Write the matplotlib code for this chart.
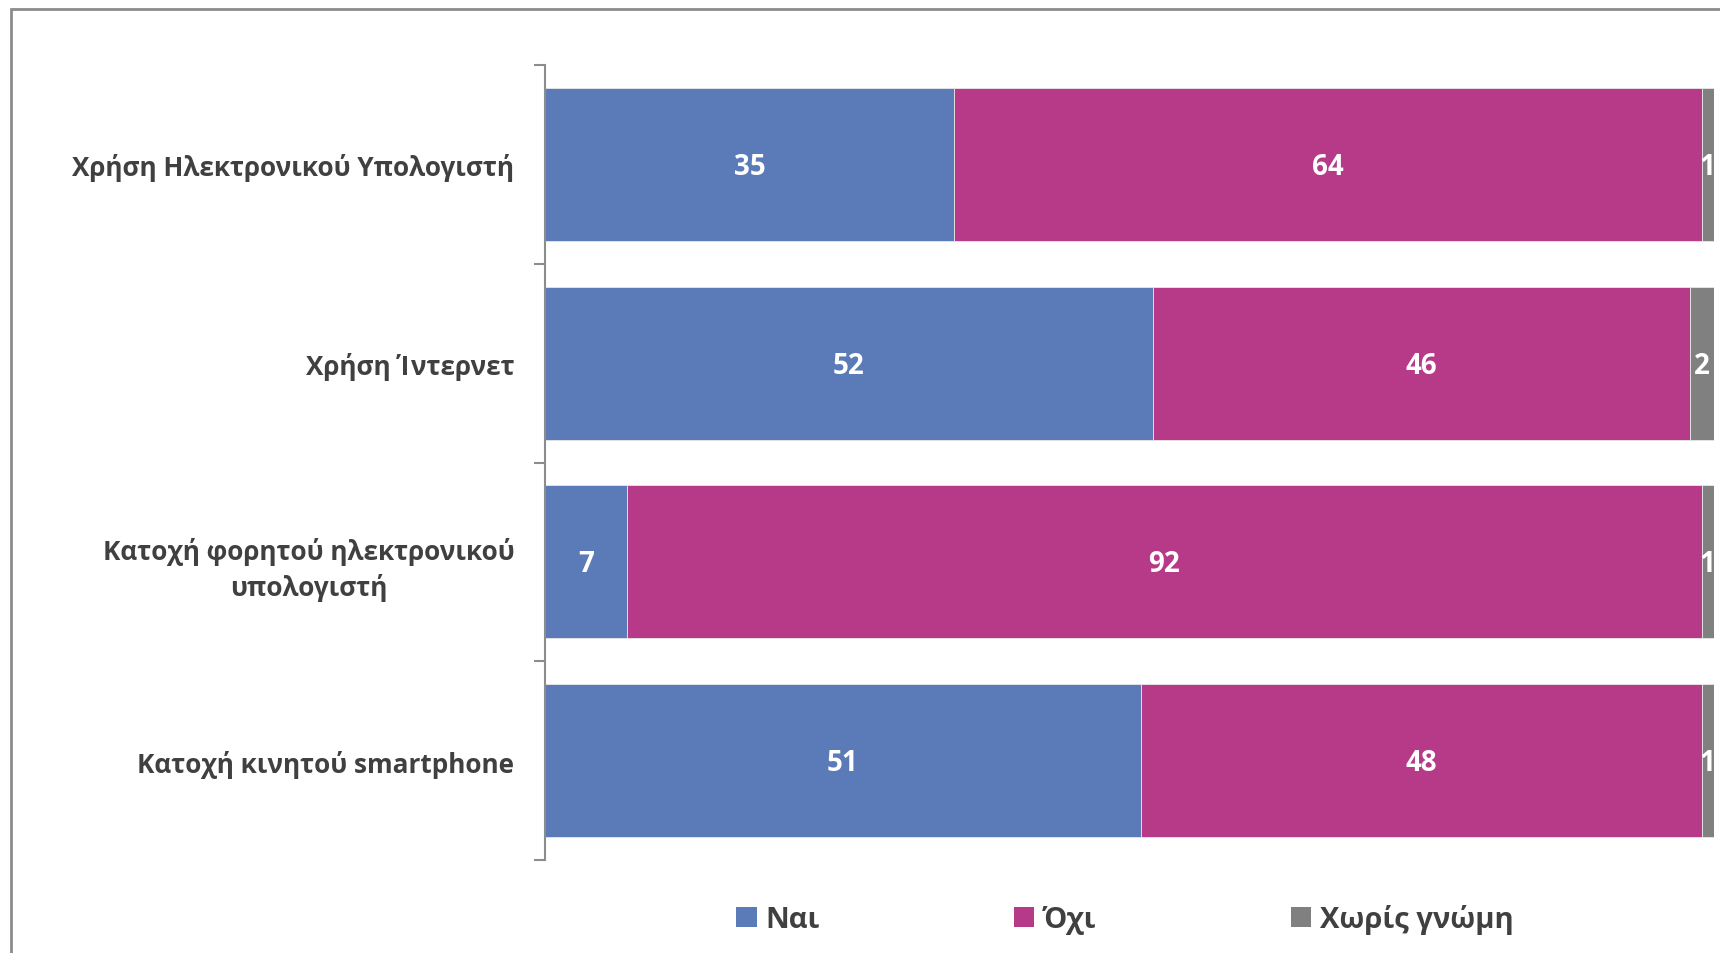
import matplotlib
matplotlib.use("Agg")
import matplotlib.pyplot as plt
from matplotlib.patches import Rectangle, Patch
import numpy as np

categories = ["Χρήση Ηλεκτρονικού Υπολογιστή", "Χρήση Ίντερνετ",
              "Κατοχή φορητού ηλεκτρονικού\nυπολογιστή", "Κατοχή κινητού smartphone"]
series_names = ["Ναι", "Όχι", "Χωρίς γνώμη"]
yes = [35, 52, 7, 51]
no = [64, 46, 92, 48]
no_opinion = [1, 2, 1, 1]
colors = ["#5B7BB8", "#B73A88", "#808080"]

plt.rcParams['font.family'] = ['Open Sans', 'DejaVu Sans']

W, H = 1720, 954
fig = plt.figure(figsize=(W / 100, H / 100), dpi=100)
fig.patches.append(Rectangle((11 / W, -0.1), 1.2, 1 - 10 / H + 0.1, transform=fig.transFigure,
                             fill=False, edgecolor="#8C8C8C", linewidth=2))

ax = fig.add_axes([545 / W, 1 - 861 / H, (1713.5 - 545) / W, (861 - 66) / H])
y = np.arange(len(categories))
left = np.zeros(len(categories))
for name, vals, c in zip(series_names, [yes, no, no_opinion], colors):
    bars = ax.barh(y, vals, left=left, height=0.77, color=c, label=name,
                   edgecolor="#E8E8E8", linewidth=0.6)
    for b, v in zip(bars, vals):
        ax.text(b.get_x() + b.get_width() / 2, b.get_y() + b.get_height() / 2 + 0.01, str(v),
                ha="center", va="center", color="white", fontsize=20, fontweight="bold",
                clip_on=False)
    left += np.array(vals)

ax.set_xlim(0, 100)
ax.set_ylim(len(categories) - 0.5, -0.5)
ax.set_yticks(y)
ax.set_yticklabels(categories, fontsize=18.8, fontweight="bold", color="#404040",
                   multialignment="center", linespacing=1.35)
ax.tick_params(axis="y", which="major", length=0, pad=22)
ax.set_yticks(np.arange(-0.5, len(categories)), minor=True)
ax.tick_params(axis="y", which="minor", length=8, width=1.5, color="#8C8C8C")
ax.set_xticks([])
for s in ["top", "right", "bottom"]:
    ax.spines[s].set_visible(False)
ax.spines["left"].set_color("#8C8C8C")
ax.spines["left"].set_linewidth(1.5)

handles = [Patch(facecolor=c, edgecolor="none") for c in colors]
leg = fig.legend(handles, series_names, loc="center", bbox_to_anchor=(1125 / W, 1 - 920 / H),
                 ncol=3, frameon=False, fontsize=21, handlelength=0.7, handleheight=0.7,
                 handletextpad=0.3, columnspacing=6.65)
for t in leg.get_texts():
    t.set_color("#404040")
    t.set_fontweight("bold")

fig.savefig("out.png", dpi=100)
